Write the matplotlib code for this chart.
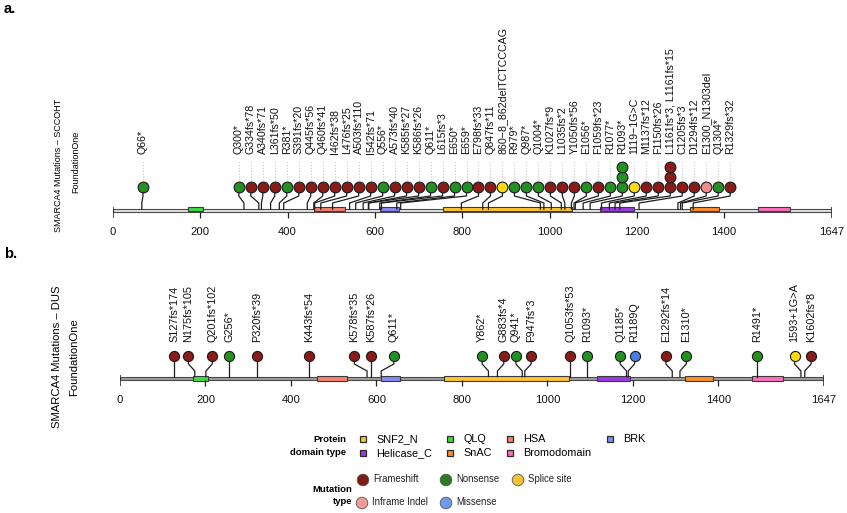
import numpy as np
import matplotlib
matplotlib.use('Agg')
import matplotlib.pyplot as plt
from matplotlib.patches import Rectangle, Circle

plt.rcParams['font.family'] = ['Liberation Sans', 'DejaVu Sans']

# ---------------- data ----------------
PROTEIN_LEN = 1647
TICKS = [0, 200, 400, 600, 800, 1000, 1200, 1400, 1647]

domain_names = ['SNF2_N', 'QLQ', 'HSA', 'BRK', 'Helicase_C', 'SnAC', 'Bromodomain']
domain_start = [757, 171, 460, 611, 1116, 1321, 1478]
domain_end = [1051, 206, 531, 654, 1193, 1388, 1551]
domain_colors = ['#FFC52E', '#3FDB3F', '#F8806E', '#8888F4', '#9A3CE4', '#FF8C2A', '#FF6EBE']

mut_types = ['Frameshift', 'Nonsense', 'Splice site', 'Inframe Indel', 'Missense']
mut_colors = ['#8B1A1A', '#229122', '#FFDA0A', '#F28C8C', '#4C7FE6']
legend_mut_colors = ['#7E1C14', '#2E7A22', '#F2C431', '#F09A9A', '#6C9CEB']

# panel a : SCCOHT
a_labels = ['Q66*', 'Q300*', 'G334fs*78', 'A340fs*71', 'L361fs*50', 'R381*', 'S391fs*20',
            'Q445fs*56', 'Q460fs*41', 'I462fs*38', 'L476fs*25', 'A503fs*110', 'I542fs*71',
            'Q556*', 'A573fs*40', 'K585fs*27', 'K586fs*26', 'Q611*', 'L615fs*3', 'E650*',
            'E659*', 'E798fs*33', 'Q847fs*11', '860\u22128_862delTCTCCCAG', 'R979*', 'Q987*',
            'Q1004*', 'K1027fs*9', 'L1035fs*2', 'Y1050fs*56', 'E1056*', 'F1059fs*23',
            'R1077*', 'R1093*', '1119\u22121G>C', 'M1137fs*12', 'F1150fs*26',
            'L1161fs*3, L1161fs*15', 'C1205fs*3', 'D1294fs*12', 'E1300_N1303del',
            'Q1304*', 'R1329fs*32']
a_pos = [66, 300, 334, 340, 361, 381, 391, 445, 460, 462, 476, 503, 542, 556, 573, 585,
         586, 611, 615, 650, 659, 798, 847, 860, 979, 987, 1004, 1027, 1035, 1050, 1056,
         1059, 1077, 1093, 1119, 1137, 1150, 1161, 1205, 1294, 1300, 1304, 1329]
a_type = ['Nonsense', 'Nonsense', 'Frameshift', 'Frameshift', 'Frameshift', 'Nonsense',
          'Frameshift', 'Frameshift', 'Frameshift', 'Frameshift', 'Frameshift', 'Frameshift',
          'Frameshift', 'Nonsense', 'Frameshift', 'Frameshift', 'Frameshift', 'Nonsense',
          'Frameshift', 'Nonsense', 'Nonsense', 'Frameshift', 'Frameshift', 'Splice site',
          'Nonsense', 'Nonsense', 'Nonsense', 'Frameshift', 'Frameshift', 'Frameshift',
          'Nonsense', 'Frameshift', 'Nonsense', 'Nonsense', 'Splice site', 'Frameshift',
          'Frameshift', 'Frameshift', 'Frameshift', 'Frameshift', 'Inframe Indel',
          'Nonsense', 'Frameshift']
a_count = [1] * 33 + [3] + [1] * 3 + [3] + [1] * 5

# panel b : DUS
b_labels = ['S127fs*174', 'N175fs*105', 'Q201fs*102', 'G256*', 'P320fs*39', 'K443fs*54',
            'K578fs*35', 'K587fs*26', 'Q611*', 'Y862*', 'G883fs*4', 'Q941*', 'F947fs*3',
            'Q1053fs*53', 'R1093*', 'Q1185*', 'R1189Q', 'E1292fs*14', 'E1310*', 'R1491*',
            '1593+1G>A', 'K1602fs*8']
b_pos = [127, 175, 201, 256, 320, 443, 578, 587, 611, 862, 883, 941, 947, 1053, 1093,
         1185, 1189, 1292, 1310, 1491, 1593, 1602]
b_type = ['Frameshift', 'Frameshift', 'Frameshift', 'Nonsense', 'Frameshift', 'Frameshift',
          'Frameshift', 'Frameshift', 'Nonsense', 'Nonsense', 'Frameshift', 'Nonsense',
          'Frameshift', 'Frameshift', 'Nonsense', 'Nonsense', 'Missense', 'Frameshift',
          'Nonsense', 'Nonsense', 'Splice site', 'Frameshift']
b_count = [1] * len(b_pos)

# ---------------- label layout ----------------
NBINS = 60
BIN_W = PROTEIN_LEN / NBINS


def jitter(pos, maxit=4):
    x = np.asarray(pos, float).copy()
    for _ in range(maxit):
        idx = np.where(np.diff(x) < BIN_W)[0]
        if len(idx) == 0:
            return x, True
        delta = np.zeros_like(x)
        delta[idx] -= 0.54 * BIN_W
        delta[idx + 1] += 0.54 * BIN_W
        x = x + delta
    return x, not np.any(np.diff(x) < BIN_W)


def grid_layout(pos):
    slots = [int(np.round(p / BIN_W)) for p in pos]
    n = len(slots)

    def diffs():
        ext = [-1] + slots + [NBINS]
        return [ext[j + 1] - ext[j] for j in range(n + 1)]

    d0 = diffs()
    dups = [j for j in range(n) if d0[j] == 0]
    for i in dups:
        d = diffs()
        gaps = [j for j in range(n + 1) if d[j] > 1]
        left = [j for j in gaps if j < i]
        right = [j for j in gaps if j > i]
        if not left and not right:
            break
        cl = i - left[-1] if left else 10 ** 9
        cr = right[0] - i if right else 10 ** 9
        if cr <= cl:
            for j in range(i, right[0]):
                slots[j] += 1
        else:
            for j in range(left[-1], i):
                slots[j] -= 1
    return (np.array(slots) + 0.5) * BIN_W


def layout(pos):
    x, ok = jitter(pos)
    if ok:
        return x
    return grid_layout(pos)


# ---------------- figure ----------------
FW, FH = 847, 513
fig = plt.figure(figsize=(FW / 100, FH / 100), dpi=100)


def make_axes(x0, x1, r_top, r_bot, r_base):
    ax = fig.add_axes([x0 / FW, 1 - r_bot / FH, (x1 - x0) / FW, (r_bot - r_top) / FH])
    ax.set_xlim(0, PROTEIN_LEN)
    ax.set_ylim(-(r_bot - r_base), r_base - r_top)
    ax.axis('off')
    return ax


def draw_panel(ax, labels, pos, types, counts, g):
    xs = layout(pos)
    # backbone
    ax.add_patch(Rectangle((0, -g['bb_h'] / 2), PROTEIN_LEN, g['bb_h'], fc=g['bb_fc'],
                           ec='#4a4a4a', lw=0.8, zorder=1))
    for s, e, c in zip(domain_start, domain_end, domain_colors):
        ax.add_patch(Rectangle((s, g['dom_y0']), e - s, g['dom_h'], fc=c, ec='#3a3a3a',
                               lw=0.8, zorder=2))
    # ticks
    for t in TICKS:
        if t in (0, PROTEIN_LEN):
            ax.plot([t, t], [g['end_top'], g['tick_bot']], color='#222222', lw=1.1, zorder=3,
                    solid_capstyle='butt')
        else:
            ax.plot([t, t], [-g['bb_h'] / 2, g['tick_bot']], color='#222222', lw=0.9,
                    zorder=3, solid_capstyle='butt')
        ax.text(t, g['tick_lab_y'], str(t), ha='center', va='center', fontsize=8.1,
                color='#111111')
    # stems, circles, labels
    r_px = g['circ_d'] / 2
    for xl, xr, lab, ty, cnt in zip(xs, pos, labels, types, counts):
        ax.plot([xl, xl, xr, xr], [g['circ_y'], g['bend1'], g['bend2'], g['bb_h'] / 2],
                color='#1e1e1e', lw=0.9, zorder=4, solid_joinstyle='miter')
        col = mut_colors[mut_types.index(ty)]
        ys = [g['circ_y'] + k * g['stack'] for k in range(cnt)]
        ax.scatter([xl] * cnt, ys, s=g['msize'], c=col, edgecolors='#1a1a1a',
                   linewidths=0.8, zorder=5)
        top = ys[-1] + r_px + 1.5
        if g['dots'] and g['dot_top'] > top:
            ax.plot([xl, xl], [top, g['dot_top']], color='#c4c4c4', lw=0.8,
                    linestyle=(0, (1, 1.6)), zorder=3)
        ax.text(xl, g['lab_y'], lab, rotation=90, ha='center', va='bottom',
                fontsize=g['lab_fs'], color='#111111')


# panel a
ax_a = make_axes(113, 832, 15, 250, 210.6)
geom_a = dict(bb_h=2.7, bb_fc='#e2e2e2', dom_y0=-0.9, dom_h=4.4, end_top=3.4, tick_bot=-7.6,
              tick_lab_y=-21.4, circ_y=23.3, circ_d=10.7, bend1=14.6, bend2=7.6, stack=10.2,
              msize=60, dots=True, dot_top=48.5, lab_y=57.0, lab_fs=7.7)
draw_panel(ax_a, a_labels, a_pos, a_type, a_count, geom_a)

# panel b
ax_b = make_axes(120, 824, 262, 420, 378.3)
geom_b = dict(bb_h=3.3, bb_fc='#9e9e9e', dom_y0=-2.6, dom_h=5.2, end_top=3.4, tick_bot=-8.2,
              tick_lab_y=-21.7, circ_y=22.3, circ_d=10.0, bend1=14.3, bend2=7.3, stack=10.0,
              msize=53, dots=False, dot_top=0, lab_y=35.8, lab_fs=7.8)
draw_panel(ax_b, b_labels, b_pos, b_type, b_count, geom_b)

# ---------------- annotations & legends (pixel space) ----------------
ax_l = fig.add_axes([0, 0, 1, 1], zorder=-1)
ax_l.set_xlim(0, FW)
ax_l.set_ylim(FH, 0)
ax_l.axis('off')

ax_l.text(4, 9, 'a.', fontsize=10.5, fontweight='bold', ha='left', va='center')
ax_l.text(4, 254, 'b.', fontsize=10.5, fontweight='bold', ha='left', va='center')

ax_l.text(59, 165, 'SMARCA4 Mutations \u2013 SCCOHT', rotation=90, fontsize=6.5,
          ha='center', va='center')
ax_l.text(76, 162, 'FoundationOne', rotation=90, fontsize=6.5, ha='center', va='center')
ax_l.text(57.5, 357, 'SMARCA4 Mutations \u2013 DUS', rotation=90, fontsize=8.1,
          ha='center', va='center')
ax_l.text(74, 357, 'FoundationOne', rotation=90, fontsize=8.1, ha='center', va='center')

# protein domain legend
ax_l.text(346, 440, 'Protein', fontsize=6.8, fontweight='bold', ha='right', va='center')
ax_l.text(346, 452.5, 'domain type', fontsize=6.8, fontweight='bold', ha='right', va='center')
dom_leg_order = ['SNF2_N', 'QLQ', 'HSA', 'BRK', 'Helicase_C', 'SnAC', 'Bromodomain']
dom_leg_xy = [(363, 439), (450, 439), (510, 439), (610, 439), (363, 453), (450, 453), (510, 453)]
for name, (x, y) in zip(dom_leg_order, dom_leg_xy):
    c = domain_colors[domain_names.index(name)]
    ax_l.add_patch(Rectangle((x - 3.2, y - 3.2), 6.4, 6.4, fc=c, ec='#2a2a2a', lw=0.9))
    ax_l.text(x + 13, y, name, fontsize=7.8, ha='left', va='center')

# mutation type legend
ax_l.text(352, 489, 'Mutation', fontsize=6.8, fontweight='bold', ha='right', va='center')
ax_l.text(352, 501, 'type', fontsize=6.8, fontweight='bold', ha='right', va='center')
mut_leg_xy = [(363, 480), (446, 480), (518, 480), (362, 503), (446, 503)]
for name, (x, y) in zip(mut_types, mut_leg_xy):
    c = legend_mut_colors[mut_types.index(name)]
    ax_l.add_patch(Circle((x, y), 5.8, fc=c, ec='#555555', lw=0.6))
    ax_l.text(x + 10, y - 1, name, fontsize=6.9, ha='left', va='center', color='#222222')

fig.savefig('out.png', dpi=100)
